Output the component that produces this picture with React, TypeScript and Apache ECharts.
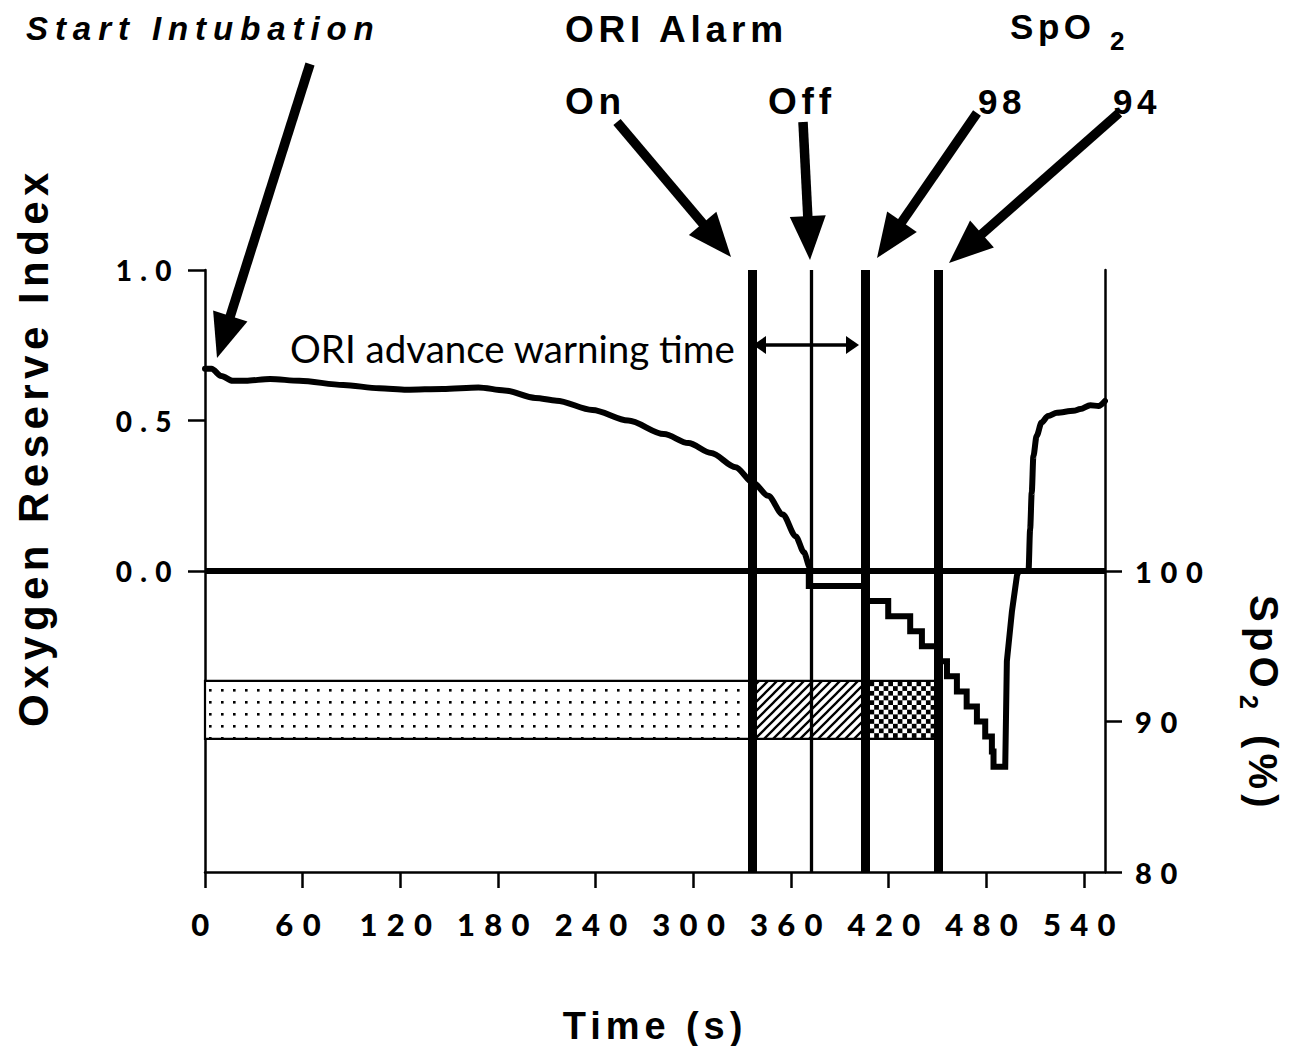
import React, { useEffect, useRef } from 'react';
import * as echarts from 'echarts';

// ---------- data ----------
const timeTicks = [0, 60, 120, 180, 240, 300, 360, 420, 480, 540];
const oriTicks = [0, 0.5, 1.0];
const spo2Ticks = [80, 90, 100];

const oriTimes = [0, 4, 10, 17, 25, 40, 58, 85, 107, 124, 146, 168, 184, 203, 216, 238, 260, 282, 297, 311, 326, 337, 346, 355, 363, 368, 371.6, 372.4, 506, 507, 508, 509, 511, 514, 518, 523.5, 533.7, 537.8, 544, 549, 553];
const oriValues = [0.672, 0.672, 0.648, 0.632, 0.632, 0.638, 0.632, 0.618, 0.607, 0.602, 0.605, 0.61, 0.6, 0.575, 0.566, 0.535, 0.5, 0.455, 0.425, 0.392, 0.345, 0.292, 0.25, 0.188, 0.115, 0.062, 0.013, 0, 0, 0.139, 0.262, 0.382, 0.449, 0.493, 0.515, 0.526, 0.532, 0.538, 0.551, 0.548, 0.565];

const spo2Times = [0, 371, 371, 405.5, 405.5, 419.8, 419.8, 433.3, 433.3, 440.5, 440.5, 450.5, 450.5, 455.9, 455.9, 462, 462, 468, 468, 474.3, 474.3, 479.4, 479.4, 483.5, 483.5, 484.5, 484.5, 491.7, 492.7, 495.8, 498.9, 500, 553];
const spo2Values = [100, 100, 99, 99, 98, 98, 97, 97, 96, 96, 95, 95, 94, 94, 93, 93, 92, 92, 91, 91, 90, 90, 89, 89, 88, 88, 87, 87, 94, 97.3, 99.7, 100, 100];

// ORI alarm on, ORI alarm off, SpO2 reaches 98, SpO2 reaches 94 (s)
const eventTimes = [336.5, 372.5, 405.5, 450.5];
// SpO2 band drawn below the time line (%)
const bandSpo2 = [88.85, 92.7];

// ---------- styling ----------
const TITLE_FONT = "'Liberation Sans', Arial";
const ITALIC_FONT = "'Liberation Sans', Helvetica";
const TICK_FONT = 'Lato, Carlito';
const NOTE_FONT = 'Lato';

const css = `
text[style*="Arial"] { letter-spacing: 0.13em; }
text[style*="Helvetica"] { letter-spacing: 0.21em; }
text[style*="Carlito"] { letter-spacing: 0.3em; }
`;

const svgUrl = (w: number, h: number, body: string) =>
  'data:image/svg+xml;charset=utf-8,' +
  encodeURIComponent(
    `<svg xmlns="http://www.w3.org/2000/svg" width="${w}" height="${h}" viewBox="0 0 ${w} ${h}">${body}</svg>`
  );

const patterns: any[] = [
  { image: svgUrl(12, 12, '<rect x="5" y="5" width="2.6" height="2.6" fill="#000"/>'), repeat: 'repeat', imageWidth: 12, imageHeight: 12 },
  { image: svgUrl(9, 9, '<path d="M-1,1 L1,-1 M0,9 L9,0 M8,10 L10,8" stroke="#000" stroke-width="2.3"/>'), repeat: 'repeat', imageWidth: 9, imageHeight: 9 },
  { image: svgUrl(10, 10, '<rect width="5" height="5" fill="#000"/><rect x="5" y="5" width="5" height="5" fill="#000"/>'), repeat: 'repeat', imageWidth: 9.4, imageHeight: 9.4 },
];

function arrow(x1: number, y1: number, x2: number, y2: number, w: number, hl: number, hw: number) {
  const dx = x2 - x1, dy = y2 - y1, L = Math.hypot(dx, dy);
  const ux = dx / L, uy = dy / L;
  const bx = x2 - ux * hl, by = y2 - uy * hl;
  const px = -uy, py = ux;
  return [
    { type: 'line', z: 10, shape: { x1, y1, x2: bx + ux * 2, y2: by + uy * 2 }, style: { stroke: '#000', lineWidth: w, lineCap: 'butt' } },
    { type: 'polygon', z: 10, shape: { points: [[x2, y2], [bx + (px * hw) / 2, by + (py * hw) / 2], [bx - (px * hw) / 2, by - (py * hw) / 2]] }, style: { fill: '#000' } },
  ];
}

function txt(text: string, x: number, y: number, size: number, family: string, opts: any = {}) {
  const align = opts.align || 'left';
  return {
    type: 'text',
    z: 10,
    x,
    y,
    style: {
      text,
      fill: '#000',
      fontSize: size,
      fontFamily: family,
      fontWeight: opts.weight || 'bold',
      fontStyle: opts.italic ? 'italic' : 'normal',
      align,
      textAlign: align,
      verticalAlign: 'middle',
      textVerticalAlign: 'middle',
    },
  };
}

function buildOption() {
  const oriData = oriTimes.map((t, i) => [t, oriValues[i]]);
  const spo2Data = spo2Times.map((t, i) => [t, spo2Values[i]]);
  const e = eventTimes;
  const bandData = [
    [0, e[0], 0],
    [e[0], e[2], 1],
    [e[2], e[3], 2],
  ];

  const axisLineStyle = { color: '#000', width: 2.5 };
  const tickLabel = { color: '#000', fontFamily: TICK_FONT, fontWeight: 900 };

  const graphics: any[] = [
    ...arrow(310, 64, 217, 358, 9.5, 44, 36),
    ...arrow(617, 122, 731, 257, 9.5, 44, 36),
    ...arrow(803, 122, 810, 260, 9.5, 44, 36),
    ...arrow(977, 113, 877, 258, 9.5, 44, 36),
    ...arrow(1119, 113, 949, 263, 9.5, 44, 36),
    // double-headed arrow
    { type: 'line', z: 10, shape: { x1: 762, y1: 345, x2: 850, y2: 345 }, style: { stroke: '#000', lineWidth: 3.5 } },
    { type: 'polygon', z: 10, shape: { points: [[753, 345], [766, 336], [766, 354]] }, style: { fill: '#000' } },
    { type: 'polygon', z: 10, shape: { points: [[859, 345], [846, 336], [846, 354]] }, style: { fill: '#000' } },
    txt('Start Intubation', 26, 28, 33, ITALIC_FONT, { italic: true }),
    txt('ORI Alarm', 565, 29, 37, TITLE_FONT),
    txt('SpO', 1010, 26, 35, TITLE_FONT),
    txt('2', 1110, 41, 26, TITLE_FONT),
    txt('On', 565, 101, 37, TITLE_FONT),
    txt('Off', 768, 101, 37, TITLE_FONT),
    txt('98', 978, 101, 35, TITLE_FONT),
    txt('94', 1113, 101, 35, TITLE_FONT),
    txt('ORI advance warning time', 290, 348, 38.5, NOTE_FONT, { weight: 'normal' }),
    txt('Time (s)', 655, 1026, 38, TITLE_FONT, { align: 'center' }),
    {
      type: 'group',
      x: 33,
      y: 447,
      rotation: Math.PI / 2,
      children: [txt('Oxygen Reserve Index', 0, 0, 42, TITLE_FONT, { align: 'center' })],
    },
    {
      type: 'group',
      x: 1263,
      y: 709,
      rotation: -Math.PI / 2,
      children: [
        txt('SpO', -114, -1, 40, TITLE_FONT),
        txt('2', -14, 14, 25, TITLE_FONT),
        txt('(%)', 26, 0, 40, TITLE_FONT),
      ],
    },
  ];

  return {
    animation: false,
    backgroundColor: '#fff',
    grid: { left: 205, right: 184, top: 270, bottom: 174 },
    xAxis: {
      type: 'value',
      min: 0,
      max: 553,
      interval: 60,
      axisLine: { show: true, onZero: false, lineStyle: axisLineStyle },
      axisTick: { show: true, length: 16, customValues: timeTicks, lineStyle: axisLineStyle },
      axisLabel: { ...tickLabel, customValues: timeTicks, fontSize: 31, margin: 52, verticalAlign: 'middle' },
      splitLine: { show: false },
    },
    yAxis: [
      {
        type: 'value',
        position: 'left',
        min: -1,
        max: 1,
        interval: 0.5,
        axisLine: { show: true, onZero: false, lineStyle: axisLineStyle },
        axisTick: { show: true, length: 17, customValues: oriTicks, lineStyle: axisLineStyle },
        axisLabel: {
          ...tickLabel,
          customValues: oriTicks,
          formatter: (v: number) => v.toFixed(1),
          fontSize: 28,
          margin: 25,
          verticalAlign: 'middle',
          padding: [0, 0, 36, 0],
        },
        splitLine: { show: false },
      },
      {
        type: 'value',
        position: 'right',
        min: 80,
        max: 120,
        interval: 10,
        axisLine: { show: true, onZero: false, lineStyle: axisLineStyle },
        axisTick: { show: true, length: 17, customValues: spo2Ticks, lineStyle: axisLineStyle },
        axisLabel: {
          ...tickLabel,
          customValues: spo2Ticks,
          fontSize: 29,
          margin: 30,
          verticalAlign: 'middle',
          padding: [0, 0, 38, 0],
        },
        splitLine: { show: false },
      },
    ],
    series: [
      {
        type: 'custom',
        name: 'band',
        xAxisIndex: 0,
        yAxisIndex: 1,
        silent: true,
        z: 1,
        clip: false,
        data: bandData,
        encode: { x: [0, 1] },
        renderItem: (params: any, api: any) => {
          const s = api.value(0), en = api.value(1), k = api.value(2);
          const a = api.coord([s, bandSpo2[1]]);
          const b = api.coord([en, bandSpo2[0]]);
          const shape = { x: a[0], y: a[1], width: b[0] - a[0], height: b[1] - a[1] };
          return {
            type: 'group',
            children: [
              { type: 'rect', shape, style: { fill: '#fff' } },
              { type: 'rect', shape, style: { fill: patterns[k], stroke: '#000', lineWidth: 2.2 } },
            ],
          };
        },
      },
      {
        type: 'line',
        name: 'ORI',
        xAxisIndex: 0,
        yAxisIndex: 0,
        data: oriData,
        showSymbol: false,
        symbol: 'none',
        smooth: 0.3,
        smoothMonotone: 'x',
        silent: true,
        z: 3,
        lineStyle: { color: '#000', width: 6, cap: 'round', join: 'round' },
        markLine: {
          silent: true,
          symbol: ['none', 'none'],
          label: { show: false },
          lineStyle: { color: '#000', type: 'solid' },
          data: eventTimes.map((t, i) => ({
            xAxis: t,
            lineStyle: { color: '#000', type: 'solid', width: i === 1 ? 3.3 : 9 },
          })),
        },
      },
      {
        type: 'line',
        name: 'SpO2',
        xAxisIndex: 0,
        yAxisIndex: 1,
        data: spo2Data,
        showSymbol: false,
        symbol: 'none',
        silent: true,
        z: 3,
        lineStyle: { color: '#000', width: 6, cap: 'butt', join: 'miter' },
      },
    ],
    graphic: { elements: graphics },
  };
}

export default function App() {
  const ref = useRef<HTMLDivElement>(null);
  useEffect(() => {
    const chart = echarts.init(ref.current!, null, { renderer: 'svg' });
    chart.setOption(buildOption() as any);
    return () => chart.dispose();
  }, []);
  return (
    <>
      <style>{css}</style>
      <div
        ref={ref}
        style={{ position: 'fixed', left: 0, top: 0, width: 1289, height: 1046, background: '#fff' }}
      />
    </>
  );
}
